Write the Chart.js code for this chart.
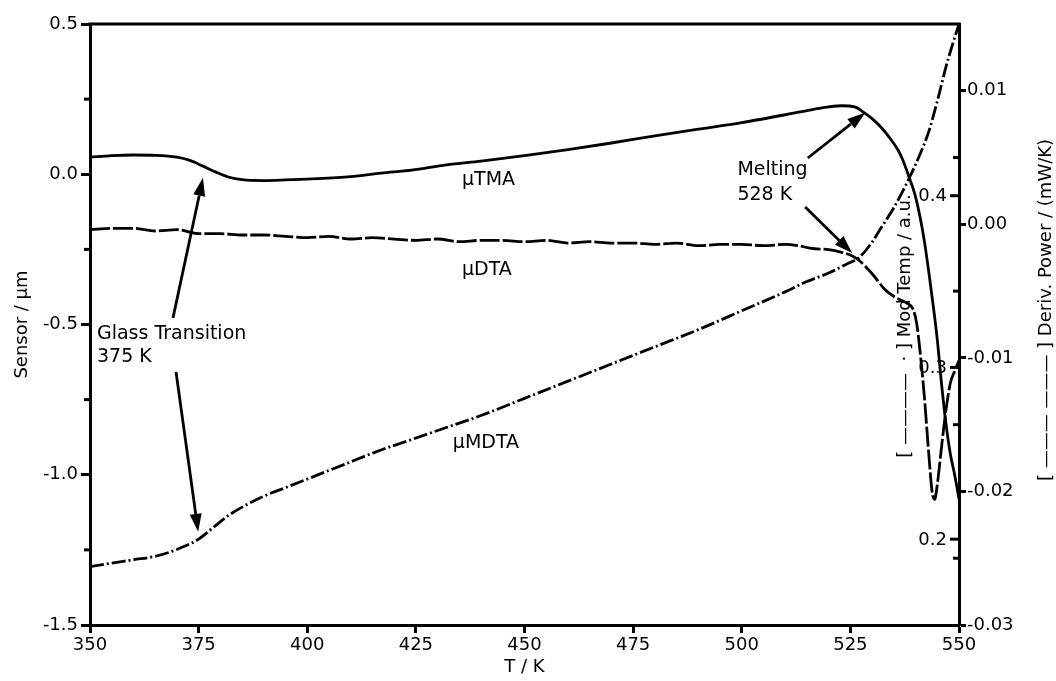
<!DOCTYPE html>
<html><head><meta charset="utf-8">
<script src="https://cdn.jsdelivr.net/npm/chart.js@4/dist/chart.umd.min.js"></script>
<style>html,body{margin:0;padding:0;background:#fff;}canvas{display:block;}</style>
</head><body>
<canvas id="c" width="1056" height="681" style="width:1056px;height:681px"></canvas>
<script>
// ---- data ----
const tmaT = [350,355,360,365,370,373,376,379,382,385,390,395,400,410,417,424,432,440,450,460,470,480,490,500,510,515,520,523,526,528,530,532,534,536,537,538.5,540,541,542,543,544,545,546,547,548,549,550];
const tmaVal = [0.057,0.062,0.064,0.063,0.057,0.046,0.027,0.007,-0.010,-0.018,-0.021,-0.019,-0.016,-0.008,0.004,0.014,0.031,0.044,0.062,0.082,0.104,0.128,0.150,0.172,0.198,0.212,0.224,0.228,0.224,0.207,0.185,0.157,0.122,0.080,0.050,-0.009,-0.075,-0.14,-0.22,-0.32,-0.43,-0.55,-0.70,-0.83,-0.93,-1.00,-1.08];

const dtaT = [350,355,360,365,370,375,380,385,390,395,400,405,410,415,420,425,430,435,440,445,450,455,460,465,470,475,480,485,490,495,500,505,510,513,516,520,523,525,527,530,533,535.5,538,539.5,540.3,541,542,543,543.8,544.4,545,545.8,546.8,548,549,550];
const dtaVal = [-0.0004,-0.0003,-0.0003,-0.0005,-0.0004,-0.0007,-0.0007,-0.0008,-0.0008,-0.0009,-0.0010,-0.0009,-0.0011,-0.0010,-0.0011,-0.0012,-0.0011,-0.0013,-0.0012,-0.0012,-0.0013,-0.0012,-0.0014,-0.0013,-0.0014,-0.0014,-0.0015,-0.0014,-0.0016,-0.0015,-0.0015,-0.0016,-0.0015,-0.0016,-0.0018,-0.0019,-0.0021,-0.0023,-0.0027,-0.0037,-0.0049,-0.0055,-0.0059,-0.0064,-0.0075,-0.0094,-0.0128,-0.0170,-0.0200,-0.0206,-0.0195,-0.0172,-0.0144,-0.0119,-0.0110,-0.0102];

const mdtaT = [350,355,360,365,370,375,378,382,386,390,395,401,409,416,424,432,440,450,460,470,480,490,500,510,515,520,524,527,530,532,535,538.5,541,543,545,547,548.5,550];
const mdtaVal = [0.184,0.186,0.188,0.190,0.194,0.200,0.206,0.214,0.220,0.225,0.230,0.236,0.244,0.251,0.258,0.265,0.272,0.282,0.292,0.302,0.312,0.322,0.333,0.344,0.350,0.355,0.360,0.364,0.373,0.381,0.393,0.410,0.424,0.437,0.455,0.475,0.488,0.500];

// ---- ticks ----
const xTicks = [350,375,400,425,450,475,500,525,550];
const xTickLabels = ['350','375','400','425','450','475','500','525','550'];
const sensorTicks = [0.5,0.0,-0.5,-1.0,-1.5];
const sensorTickLabels = ['0.5','0.0','-0.5','-1.0','-1.5'];
const sensorMinor = [0.25,-0.25,-0.75,-1.25];
const derivTicks = [0.01,0.0,-0.01,-0.02,-0.03];
const derivTickLabels = ['0.01','0.00','-0.01','-0.02','-0.03'];
const derivMinor = [0.005,-0.005,-0.015,-0.025];
const modTicks = [0.4,0.3,0.2];
const modTickLabels = ['0.4','0.3','0.2'];

// ---- texts ----
const seriesNames = ['\u00b5TMA','\u00b5DTA','\u00b5MDTA'];
const xTitle = 'T / K';
const sensorTitle = 'Sensor / \u00b5m';
const modTitle = '[ \u2014\u2014\u2014\u2014  \u00b7 ] Mod Temp / a.u.';
const derivTitle = '[ \u2014\u2014\u2014 \u2014\u2014\u2014 ] Deriv. Power / (mW/K)';

const FONT = '"DejaVu Sans", "Liberation Sans", Arial, sans-serif';
const toPts = (t, v) => t.map((x, i) => ({x: x, y: v[i]}));

// annotations in (T, sensor) coordinates
const notes = [
  {text: 'Glass Transition', T: 351.6, v: -0.532},
  {text: '375 K', T: 351.6, v: -0.607},
  {text: 'Melting', T: 499.0, v: 0.014},
  {text: '528 K', T: 499.0, v: -0.069},
  {text: seriesNames[0], T: 435.6, v: -0.019},
  {text: seriesNames[1], T: 435.6, v: -0.318},
  {text: seriesNames[2], T: 433.5, v: -0.894}
];
const arrows = [
  {t0: 369.1, v0: -0.478, t1: 376.0, v1: -0.012},
  {t0: 369.8, v0: -0.658, t1: 374.9, v1: -1.190},
  {t0: 515.2, v0: 0.054, t1: 528.4, v1: 0.205},
  {t0: 514.6, v0: -0.109, t1: 525.4, v1: -0.262}
];

const ticksFrom = (arr) => (scale) => { scale.ticks = arr.map(v => ({value: v})); };

const deco = {
  id: 'deco',
  afterDraw(chart) {
    const {ctx, chartArea: a, scales} = chart;
    const sx = scales.x, sy = scales.y, sd = scales.yd, sm = scales.ym;
    ctx.save();
    ctx.strokeStyle = '#000'; ctx.fillStyle = '#000';
    ctx.lineWidth = 3;
    ctx.beginPath(); ctx.moveTo(a.left - 1.5, a.top); ctx.lineTo(a.right + 1.5, a.top); ctx.stroke();
    sensorMinor.forEach(v => { const y = sy.getPixelForValue(v); ctx.beginPath(); ctx.moveTo(a.left, y); ctx.lineTo(a.left - 6, y); ctx.stroke(); });
    derivMinor.forEach(v => { const y = sd.getPixelForValue(v); ctx.beginPath(); ctx.moveTo(a.right, y); ctx.lineTo(a.right - 6, y); ctx.stroke(); });
    ctx.font = '18px ' + FONT; ctx.textAlign = 'right'; ctx.textBaseline = 'middle';
    modTicks.forEach((v, i) => {
      const y = sm.getPixelForValue(v);
      ctx.beginPath(); ctx.moveTo(a.right, y); ctx.lineTo(a.right - 9, y); ctx.stroke();
      ctx.fillText(modTickLabels[i], a.right - 12, y + 1);
    });
    ctx.font = '18px ' + FONT; ctx.textAlign = 'center'; ctx.textBaseline = 'middle';
    ctx.fillText(xTitle, (a.left + a.right) / 2, 667);
    const rot = (txt, x, y) => { ctx.save(); ctx.translate(x, y); ctx.rotate(-Math.PI / 2); ctx.fillText(txt, 0, 0); ctx.restore(); };
    rot(sensorTitle, 22, (a.top + a.bottom) / 2);
    rot(modTitle, 905, 326);
    rot(derivTitle, 1046, 310);
    ctx.font = '19px ' + FONT; ctx.textAlign = 'left';
    notes.forEach(n => ctx.fillText(n.text, sx.getPixelForValue(n.T), sy.getPixelForValue(n.v)));
    arrows.forEach(ar => {
      const x0 = sx.getPixelForValue(ar.t0), y0 = sy.getPixelForValue(ar.v0);
      const x1 = sx.getPixelForValue(ar.t1), y1 = sy.getPixelForValue(ar.v1);
      const ang = Math.atan2(y1 - y0, x1 - x0), L = 18, W = 6;
      const bx = x1 - L * Math.cos(ang), by = y1 - L * Math.sin(ang);
      ctx.lineWidth = 2.8;
      ctx.beginPath(); ctx.moveTo(x0, y0); ctx.lineTo(bx, by); ctx.stroke();
      ctx.beginPath(); ctx.moveTo(x1, y1);
      ctx.lineTo(bx + W * Math.sin(ang), by - W * Math.cos(ang));
      ctx.lineTo(bx - W * Math.sin(ang), by + W * Math.cos(ang));
      ctx.closePath(); ctx.fill();
    });
    ctx.restore();
  }
};

const axisCommon = {
  border: {display: true, color: '#000', width: 3},
  grid: {drawOnChartArea: false, drawTicks: true, tickLength: 9, tickWidth: 3, tickColor: '#000'},
};
const tickFont = {size: 18, family: FONT};

new Chart(document.getElementById('c'), {
  type: 'line',
  data: {
    datasets: [
      {label: seriesNames[0], data: toPts(tmaT, tmaVal), yAxisID: 'y', borderColor: '#000', borderWidth: 2.8, pointRadius: 0, cubicInterpolationMode: 'monotone', fill: false},
      {label: seriesNames[1], data: toPts(dtaT, dtaVal), yAxisID: 'yd', borderColor: '#000', borderWidth: 2.8, borderDash: [20, 3], pointRadius: 0, cubicInterpolationMode: 'monotone', fill: false},
      {label: seriesNames[2], data: toPts(mdtaT, mdtaVal), yAxisID: 'ym', borderColor: '#000', borderWidth: 2.8, borderDash: [14, 3, 2, 3], pointRadius: 0, cubicInterpolationMode: 'monotone', fill: false}
    ]
  },
  options: {
    responsive: false, animation: false, devicePixelRatio: 1,
    layout: {padding: {top: 24, left: 0, right: 0, bottom: 0}},
    plugins: {legend: {display: false}, tooltip: {enabled: false}},
    scales: {
      x: {type: 'linear', position: 'bottom', min: 350, max: 550, ...axisCommon,
          grid: {...axisCommon.grid, tickLength: 8},
          afterBuildTicks: ticksFrom(xTicks),
          afterFit: s => { s.height = 56; },
          ticks: {color: '#000', font: tickFont, padding: 2, maxRotation: 0, autoSkip: false,
                  callback: (v, i) => xTickLabels[i]}},
      y: {type: 'linear', position: 'left', min: -1.5, max: 0.5, ...axisCommon,
          afterBuildTicks: ticksFrom(sensorTicks),
          afterFit: s => { s.width = 90; },
          ticks: {color: '#000', font: tickFont, padding: 3, autoSkip: false,
                  callback: (v, i) => sensorTickLabels[i]}},
      yd: {type: 'linear', position: 'right', min: -0.03, max: 0.015, ...axisCommon,
          grid: {...axisCommon.grid, tickLength: 7},
          afterBuildTicks: ticksFrom(derivTicks),
          afterFit: s => { s.width = 97; },
          ticks: {color: '#000', font: tickFont, padding: 1, autoSkip: false,
                  callback: (v, i) => derivTickLabels[i]}},
      ym: {type: 'linear', position: 'right', min: 0.15, max: 0.5, display: false}
    }
  },
  plugins: [deco]
});
</script>
</body></html>
